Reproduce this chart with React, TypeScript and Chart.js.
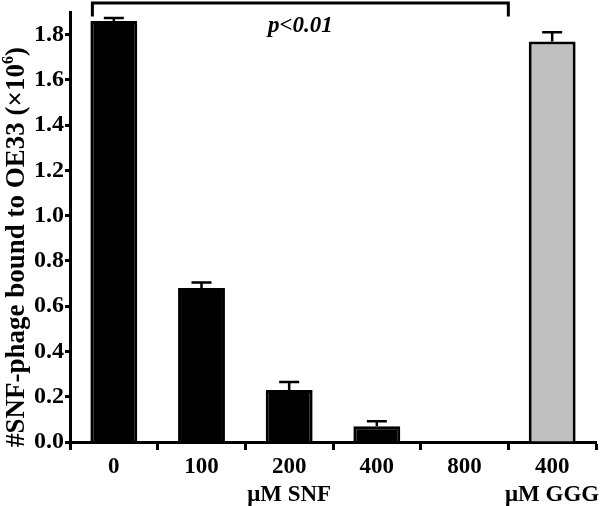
import React, { useEffect, useRef } from "react";
import { Chart, registerables } from "chart.js";

Chart.register(...registerables);

// ---- data ----
const categories: string[][] = [["0"], ["100"], ["200", "μM SNF"], ["400"], ["800"], ["400", "μM GGG"]];
const values: number[] = [1.86, 0.68, 0.23, 0.07, 0, 1.77];
const errors: number[] = [0.013, 0.025, 0.035, 0.022, 0, 0.04];
const barFill: string[] = ["#000000", "#000000", "#000000", "#000000", "#000000", "#c0c0c0"];
const yMin = 0;
const yMax = 1.9;
const yStep = 0.2;
const yTitleMain = "#SNF-phage bound to OE33 (×10";
const yTitleSup = "6";
const yTitleEnd = ")";
const pLabel = "p<0.01";
const bracketFromIndex = 0;
const bracketToIndex = 4;
const bracketTopValue = 1.94;
const bracketLegValue = 1.88;
const pLabelValue = 1.84;

const FONT = "'Liberation Serif', 'Times New Roman', serif";

const overlayPlugin = {
  id: "overlay",
  afterDatasetsDraw(chart: any) {
    const ctx = chart.ctx;
    const y = chart.scales.y;
    const meta = chart.getDatasetMeta(0);
    ctx.save();
    ctx.strokeStyle = "#000";
    ctx.lineCap = "butt";
    // error bars
    ctx.lineWidth = 2.5;
    meta.data.forEach((el: any, i: number) => {
      const e = errors[i];
      if (!e) return;
      const yt = y.getPixelForValue(values[i] + e);
      const yb = y.getPixelForValue(values[i]);
      ctx.beginPath();
      ctx.moveTo(el.x, yb);
      ctx.lineTo(el.x, yt);
      ctx.moveTo(el.x - 10, yt);
      ctx.lineTo(el.x + 10, yt);
      ctx.stroke();
    });
    // bracket
    const a = meta.data[bracketFromIndex];
    const b1 = meta.data[bracketToIndex];
    const b2 = meta.data[bracketToIndex + 1];
    const xl = a.x - a.width / 2 + 2;
    const xr = (b1.x + b2.x) / 2;
    const yTop = y.getPixelForValue(bracketTopValue);
    const yLeg = y.getPixelForValue(bracketLegValue);
    ctx.lineWidth = 3;
    ctx.beginPath();
    ctx.moveTo(xl, yLeg);
    ctx.lineTo(xl, yTop);
    ctx.lineTo(xr, yTop);
    ctx.lineTo(xr, yLeg);
    ctx.stroke();
    ctx.fillStyle = "#000";
    ctx.font = `italic bold 23px ${FONT}`;
    ctx.textAlign = "center";
    ctx.textBaseline = "middle";
    ctx.fillText(pLabel, (xl + xr) / 2, y.getPixelForValue(pLabelValue));
    // y title
    ctx.translate(17, 247);
    ctx.rotate(-Math.PI / 2);
    ctx.textAlign = "left";
    ctx.textBaseline = "middle";
    const mainFont = `bold 27px ${FONT}`;
    const supFont = `bold 16px ${FONT}`;
    ctx.font = mainFont;
    const w1 = ctx.measureText(yTitleMain).width;
    const w3 = ctx.measureText(yTitleEnd).width;
    ctx.font = supFont;
    const w2 = ctx.measureText(yTitleSup).width;
    const x0 = -(w1 + w2 + w3) / 2;
    ctx.font = mainFont;
    ctx.fillText(yTitleMain, x0, 0);
    ctx.font = supFont;
    ctx.fillText(yTitleSup, x0 + w1, -8);
    ctx.font = mainFont;
    ctx.fillText(yTitleEnd, x0 + w1 + w2, 0);
    ctx.restore();
  },
};

export default function App() {
  const ref = useRef<HTMLCanvasElement | null>(null);
  useEffect(() => {
    document.body.style.margin = "0";
    const chart = new Chart(ref.current as HTMLCanvasElement, {
      type: "bar",
      data: {
        labels: categories,
        datasets: [
          {
            data: values,
            backgroundColor: barFill,
            borderColor: "#000",
            borderWidth: 3,
            borderSkipped: "bottom",
            barPercentage: 0.535,
            categoryPercentage: 1,
          },
        ],
      },
      options: {
        responsive: false,
        animation: false,
        layout: { padding: { left: 0, right: 5, top: 12, bottom: 0 } },
        plugins: { legend: { display: false }, tooltip: { enabled: false } },
        scales: {
          x: {
            offset: true,
            grid: {
              offset: true,
              drawOnChartArea: false,
              drawTicks: true,
              tickLength: 8,
              tickWidth: 3,
              tickColor: "#000",
              color: "#000",
            },
            border: { display: true, color: "#000", width: 3 },
            ticks: {
              color: "#000",
              padding: 3,
              maxRotation: 0,
              autoSkip: false,
              font: { family: FONT, size: 23, weight: "bold", lineHeight: "28px" },
            },
            afterFit(scale: any) {
              scale.height = 64;
              scale.paddingLeft = 0;
              scale.paddingRight = 0;
            },
          },
          y: {
            min: yMin,
            max: yMax,
            grid: {
              drawOnChartArea: false,
              drawTicks: true,
              tickLength: 5,
              tickWidth: 3,
              tickColor: "#000",
              color: "#000",
            },
            border: { display: true, color: "#000", width: 3 },
            ticks: {
              stepSize: yStep,
              includeBounds: false,
              color: "#000",
              padding: 1,
              font: { family: FONT, size: 24, weight: "bold" },
              callback: (v: any) => Number(v).toFixed(1),
            },
            afterFit(scale: any) {
              scale.width = 70;
              scale.paddingTop = 0;
              scale.paddingBottom = 0;
            },
          },
        },
      },
      plugins: [overlayPlugin],
    });
    return () => chart.destroy();
  }, []);
  return (
    <div style={{ position: "absolute", left: 0, top: 0, width: 601, height: 506, background: "#fff" }}>
      <canvas ref={ref} width={601} height={506} />
    </div>
  );
}
